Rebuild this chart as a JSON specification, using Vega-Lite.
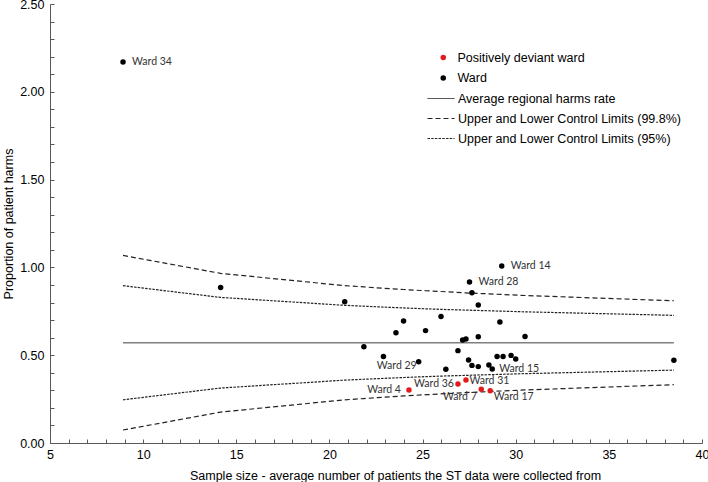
{
  "$schema": "https://vega.github.io/schema/vega-lite/v6.json",
  "width": 652,
  "height": 439,
  "autosize": {"type": "none"},
  "padding": {"left": 50, "top": 4, "right": 6, "bottom": 39},
  "background": "white",
  "config": {"view": {"stroke": null}},
  "datasets": {
    "wards": [
      {"label": "Ward 34", "n": 8.92, "p": 2.17, "type": "Ward"},
      {"label": "", "n": 14.16, "p": 0.885, "type": "Ward"},
      {"label": "", "n": 20.82, "p": 0.805, "type": "Ward"},
      {"label": "", "n": 21.85, "p": 0.548, "type": "Ward"},
      {"label": "", "n": 22.9, "p": 0.492, "type": "Ward"},
      {"label": "Ward 29", "n": 24.79, "p": 0.463, "type": "Ward"},
      {"label": "", "n": 23.57, "p": 0.628, "type": "Ward"},
      {"label": "", "n": 23.98, "p": 0.695, "type": "Ward"},
      {"label": "", "n": 25.16, "p": 0.64, "type": "Ward"},
      {"label": "", "n": 25.99, "p": 0.721, "type": "Ward"},
      {"label": "", "n": 26.25, "p": 0.42, "type": "Ward"},
      {"label": "", "n": 26.9, "p": 0.526, "type": "Ward"},
      {"label": "", "n": 27.15, "p": 0.587, "type": "Ward"},
      {"label": "", "n": 27.33, "p": 0.592, "type": "Ward"},
      {"label": "", "n": 27.47, "p": 0.473, "type": "Ward"},
      {"label": "Ward 28", "n": 27.52, "p": 0.917, "type": "Ward"},
      {"label": "", "n": 27.65, "p": 0.856, "type": "Ward"},
      {"label": "", "n": 27.65, "p": 0.442, "type": "Ward"},
      {"label": "", "n": 27.99, "p": 0.786, "type": "Ward"},
      {"label": "", "n": 27.99, "p": 0.605, "type": "Ward"},
      {"label": "", "n": 27.99, "p": 0.435, "type": "Ward"},
      {"label": "", "n": 28.56, "p": 0.444, "type": "Ward"},
      {"label": "Ward 15", "n": 28.74, "p": 0.421, "type": "Ward"},
      {"label": "", "n": 29.0, "p": 0.492, "type": "Ward"},
      {"label": "", "n": 29.15, "p": 0.689, "type": "Ward"},
      {"label": "Ward 14", "n": 29.25, "p": 1.008, "type": "Ward"},
      {"label": "", "n": 29.32, "p": 0.492, "type": "Ward"},
      {"label": "", "n": 29.75, "p": 0.499, "type": "Ward"},
      {"label": "", "n": 30.0, "p": 0.478, "type": "Ward"},
      {"label": "", "n": 30.5, "p": 0.607, "type": "Ward"},
      {"label": "", "n": 38.49, "p": 0.471, "type": "Ward"},
      {"label": "Ward 4", "n": 24.27, "p": 0.302, "type": "Positively deviant ward"},
      {"label": "Ward 36", "n": 26.9, "p": 0.336, "type": "Positively deviant ward"},
      {"label": "Ward 31", "n": 27.33, "p": 0.359, "type": "Positively deviant ward"},
      {"label": "Ward 7", "n": 28.15, "p": 0.306, "type": "Positively deviant ward"},
      {"label": "Ward 17", "n": 28.63, "p": 0.298, "type": "Positively deviant ward"}
    ],
    "lines": [
      {"n": 8.92, "v": 0.571, "line": "M", "series": "Average regional harms rate"},
      {"n": 38.49, "v": 0.571, "line": "M", "series": "Average regional harms rate"},
      {"n": 8.92, "v": 1.068, "line": "U99", "series": "Upper and Lower Control Limits (99.8%)"},
      {"n": 14.16, "v": 0.966, "line": "U99", "series": "Upper and Lower Control Limits (99.8%)"},
      {"n": 20.82, "v": 0.896, "line": "U99", "series": "Upper and Lower Control Limits (99.8%)"},
      {"n": 21.85, "v": 0.889, "line": "U99", "series": "Upper and Lower Control Limits (99.8%)"},
      {"n": 22.9, "v": 0.881, "line": "U99", "series": "Upper and Lower Control Limits (99.8%)"},
      {"n": 24.0, "v": 0.874, "line": "U99", "series": "Upper and Lower Control Limits (99.8%)"},
      {"n": 25.2, "v": 0.867, "line": "U99", "series": "Upper and Lower Control Limits (99.8%)"},
      {"n": 26.3, "v": 0.861, "line": "U99", "series": "Upper and Lower Control Limits (99.8%)"},
      {"n": 27.3, "v": 0.855, "line": "U99", "series": "Upper and Lower Control Limits (99.8%)"},
      {"n": 28.2, "v": 0.851, "line": "U99", "series": "Upper and Lower Control Limits (99.8%)"},
      {"n": 29.2, "v": 0.846, "line": "U99", "series": "Upper and Lower Control Limits (99.8%)"},
      {"n": 30.5, "v": 0.84, "line": "U99", "series": "Upper and Lower Control Limits (99.8%)"},
      {"n": 38.49, "v": 0.81, "line": "U99", "series": "Upper and Lower Control Limits (99.8%)"},
      {"n": 8.92, "v": 0.074, "line": "L99", "series": "Upper and Lower Control Limits (99.8%)"},
      {"n": 14.16, "v": 0.176, "line": "L99", "series": "Upper and Lower Control Limits (99.8%)"},
      {"n": 20.82, "v": 0.246, "line": "L99", "series": "Upper and Lower Control Limits (99.8%)"},
      {"n": 21.85, "v": 0.253, "line": "L99", "series": "Upper and Lower Control Limits (99.8%)"},
      {"n": 22.9, "v": 0.261, "line": "L99", "series": "Upper and Lower Control Limits (99.8%)"},
      {"n": 24.0, "v": 0.268, "line": "L99", "series": "Upper and Lower Control Limits (99.8%)"},
      {"n": 25.2, "v": 0.275, "line": "L99", "series": "Upper and Lower Control Limits (99.8%)"},
      {"n": 26.3, "v": 0.281, "line": "L99", "series": "Upper and Lower Control Limits (99.8%)"},
      {"n": 27.3, "v": 0.287, "line": "L99", "series": "Upper and Lower Control Limits (99.8%)"},
      {"n": 28.2, "v": 0.291, "line": "L99", "series": "Upper and Lower Control Limits (99.8%)"},
      {"n": 29.2, "v": 0.296, "line": "L99", "series": "Upper and Lower Control Limits (99.8%)"},
      {"n": 30.5, "v": 0.302, "line": "L99", "series": "Upper and Lower Control Limits (99.8%)"},
      {"n": 38.49, "v": 0.332, "line": "L99", "series": "Upper and Lower Control Limits (99.8%)"},
      {"n": 8.92, "v": 0.896, "line": "U95", "series": "Upper and Lower Control Limits (95%)"},
      {"n": 14.16, "v": 0.829, "line": "U95", "series": "Upper and Lower Control Limits (95%)"},
      {"n": 20.82, "v": 0.784, "line": "U95", "series": "Upper and Lower Control Limits (95%)"},
      {"n": 21.85, "v": 0.779, "line": "U95", "series": "Upper and Lower Control Limits (95%)"},
      {"n": 22.9, "v": 0.774, "line": "U95", "series": "Upper and Lower Control Limits (95%)"},
      {"n": 24.0, "v": 0.769, "line": "U95", "series": "Upper and Lower Control Limits (95%)"},
      {"n": 25.2, "v": 0.764, "line": "U95", "series": "Upper and Lower Control Limits (95%)"},
      {"n": 26.3, "v": 0.76, "line": "U95", "series": "Upper and Lower Control Limits (95%)"},
      {"n": 27.3, "v": 0.757, "line": "U95", "series": "Upper and Lower Control Limits (95%)"},
      {"n": 28.2, "v": 0.754, "line": "U95", "series": "Upper and Lower Control Limits (95%)"},
      {"n": 29.2, "v": 0.751, "line": "U95", "series": "Upper and Lower Control Limits (95%)"},
      {"n": 30.5, "v": 0.747, "line": "U95", "series": "Upper and Lower Control Limits (95%)"},
      {"n": 38.49, "v": 0.727, "line": "U95", "series": "Upper and Lower Control Limits (95%)"},
      {"n": 8.92, "v": 0.246, "line": "L95", "series": "Upper and Lower Control Limits (95%)"},
      {"n": 14.16, "v": 0.313, "line": "L95", "series": "Upper and Lower Control Limits (95%)"},
      {"n": 20.82, "v": 0.358, "line": "L95", "series": "Upper and Lower Control Limits (95%)"},
      {"n": 21.85, "v": 0.363, "line": "L95", "series": "Upper and Lower Control Limits (95%)"},
      {"n": 22.9, "v": 0.368, "line": "L95", "series": "Upper and Lower Control Limits (95%)"},
      {"n": 24.0, "v": 0.373, "line": "L95", "series": "Upper and Lower Control Limits (95%)"},
      {"n": 25.2, "v": 0.378, "line": "L95", "series": "Upper and Lower Control Limits (95%)"},
      {"n": 26.3, "v": 0.382, "line": "L95", "series": "Upper and Lower Control Limits (95%)"},
      {"n": 27.3, "v": 0.385, "line": "L95", "series": "Upper and Lower Control Limits (95%)"},
      {"n": 28.2, "v": 0.388, "line": "L95", "series": "Upper and Lower Control Limits (95%)"},
      {"n": 29.2, "v": 0.391, "line": "L95", "series": "Upper and Lower Control Limits (95%)"},
      {"n": 30.5, "v": 0.395, "line": "L95", "series": "Upper and Lower Control Limits (95%)"},
      {"n": 38.49, "v": 0.415, "line": "L95", "series": "Upper and Lower Control Limits (95%)"}
    ]
  },
  "encoding": {
    "x": {
      "field": "n", "type": "quantitative",
      "scale": {"domain": [5, 40], "nice": false, "zero": false},
      "axis": {
        "title": "Sample size - average number of patients the ST data were collected from",
        "values": [5,6,7,8,9,10,11,12,13,14,15,16,17,18,19,20,21,22,23,24,25,26,27,28,29,30,31,32,33,34,35,36,37,38,39,40],
        "labelExpr": "datum.value % 5 === 0 ? datum.label : ''",
        "grid": false, "tickSize": -4, "tickColor": "#595959", "domainColor": "#595959",
        "labelFont": "Liberation Sans", "labelFontSize": 12.5, "labelColor": "#000",
        "labelPadding": 9, "labelOverlap": false, "labelFlush": false,
        "titleFont": "Liberation Sans", "titleFontSize": 12.5, "titleFontWeight": "normal", "titleColor": "#000",
        "titlePadding": 9, "titleX": 345
      }
    },
    "y": {
      "field": "p", "type": "quantitative",
      "scale": {"domain": [0, 2.5], "nice": false},
      "axis": {
        "title": "Proportion of patient harms",
        "values": [0,0.1,0.2,0.3,0.4,0.5,0.6,0.7,0.8,0.9,1,1.1,1.2,1.3,1.4,1.5,1.6,1.7,1.8,1.9,2,2.1,2.2,2.3,2.4,2.5],
        "labelExpr": "round(datum.value*10) % 5 === 0 ? format(datum.value, '.2f') : ''",
        "grid": false, "tickSize": -4, "tickColor": "#595959", "domainColor": "#595959",
        "labelFont": "Liberation Sans", "labelFontSize": 12.5, "labelColor": "#000",
        "labelPadding": 10, "labelOverlap": false, "labelFlush": false,
        "titleFont": "Liberation Sans", "titleFontSize": 12.5, "titleFontWeight": "normal", "titleColor": "#000",
        "titlePadding": 4
      }
    }
  },
  "layer": [
    {
      "data": {"name": "lines"},
      "transform": [{"filter": "datum.line === 'M'"}],
      "mark": {"type": "line", "color": "#808080", "strokeWidth": 1.5},
      "encoding": {
        "x": {"field": "n", "type": "quantitative"},
        "y": {"field": "v", "type": "quantitative"},
        "detail": {"field": "line"},
        "strokeDash": {
          "field": "series", "type": "nominal",
          "scale": {
            "domain": ["Average regional harms rate", "Upper and Lower Control Limits (99.8%)", "Upper and Lower Control Limits (95%)"],
            "range": [[1, 0], [5, 3], [2.5, 1.2]]
          },
          "legend": {
            "title": null, "orient": "none", "legendX": 377, "legendY": 88, "padding": 0,
            "symbolType": "stroke", "symbolSize": 729, "symbolStrokeColor": "#000", "symbolStrokeWidth": 1,
            "labelOffset": 3, "clipHeight": 13, "rowPadding": 7, "labelLimit": 400,
            "labelFont": "Liberation Sans", "labelFontSize": 12.5, "labelColor": "#000"
          }
        }
      }
    },
    {
      "data": {"name": "lines"},
      "transform": [{"filter": "datum.line !== 'M'"}],
      "mark": {"type": "line", "color": "#222222", "strokeWidth": 1.2},
      "encoding": {
        "x": {"field": "n", "type": "quantitative"},
        "y": {"field": "v", "type": "quantitative"},
        "detail": {"field": "line"},
        "strokeDash": {"field": "series", "type": "nominal"}
      }
    },
    {
      "data": {"name": "wards"},
      "mark": {"type": "point", "filled": true, "size": 30, "opacity": 1},
      "encoding": {
        "color": {
          "field": "type", "type": "nominal",
          "scale": {"domain": ["Positively deviant ward", "Ward"], "range": ["#e31a1c", "#000000"]},
          "legend": {
            "title": null, "orient": "none", "legendX": 387, "legendY": 47, "padding": 0,
            "symbolType": "circle", "symbolSize": 30, "symbolStrokeWidth": 0,
            "labelOffset": 8, "clipHeight": 13, "rowPadding": 7.5, "labelLimit": 400,
            "labelFont": "Liberation Sans", "labelFontSize": 12.5, "labelColor": "#000"
          }
        }
      }
    },
    {
      "data": {"name": "wards"},
      "transform": [{"filter": {"field": "label", "oneOf": ["Ward 34", "Ward 14", "Ward 28"]}}],
      "mark": {"type": "text", "font": "Lato", "fontSize": 10.5, "color": "#333", "align": "left", "baseline": "middle", "dx": 9},
      "encoding": {"text": {"field": "label"}}
    },
    {
      "data": {"name": "wards"},
      "transform": [{"filter": {"field": "label", "oneOf": ["Ward 15"]}}],
      "mark": {"type": "text", "font": "Lato", "fontSize": 10.5, "color": "#333", "align": "left", "baseline": "middle", "dx": 7},
      "encoding": {"text": {"field": "label"}}
    },
    {
      "data": {"name": "wards"},
      "transform": [{"filter": {"field": "label", "oneOf": ["Ward 31"]}}],
      "mark": {"type": "text", "font": "Lato", "fontSize": 10.5, "color": "#333", "align": "left", "baseline": "middle", "dx": 3.5, "dy": 1},
      "encoding": {"text": {"field": "label"}}
    },
    {
      "data": {"name": "wards"},
      "transform": [{"filter": {"field": "label", "oneOf": ["Ward 17"]}}],
      "mark": {"type": "text", "font": "Lato", "fontSize": 10.5, "color": "#333", "align": "left", "baseline": "middle", "dx": 3.5, "dy": 6},
      "encoding": {"text": {"field": "label"}}
    },
    {
      "data": {"name": "wards"},
      "transform": [{"filter": {"field": "label", "oneOf": ["Ward 36"]}}],
      "mark": {"type": "text", "font": "Lato", "fontSize": 10.5, "color": "#333", "align": "right", "baseline": "middle", "dx": -4},
      "encoding": {"text": {"field": "label"}}
    },
    {
      "data": {"name": "wards"},
      "transform": [{"filter": {"field": "label", "oneOf": ["Ward 4"]}}],
      "mark": {"type": "text", "font": "Lato", "fontSize": 10.5, "color": "#333", "align": "right", "baseline": "middle", "dx": -8},
      "encoding": {"text": {"field": "label"}}
    },
    {
      "data": {"name": "wards"},
      "transform": [{"filter": {"field": "label", "oneOf": ["Ward 29"]}}],
      "mark": {"type": "text", "font": "Lato", "fontSize": 10.5, "color": "#333", "align": "right", "baseline": "middle", "dx": -2, "dy": 4.5},
      "encoding": {"text": {"field": "label"}}
    },
    {
      "data": {"name": "wards"},
      "transform": [{"filter": {"field": "label", "oneOf": ["Ward 7"]}}],
      "mark": {"type": "text", "font": "Lato", "fontSize": 10.5, "color": "#333", "align": "right", "baseline": "middle", "dx": -4.5, "dy": 7.5},
      "encoding": {"text": {"field": "label"}}
    }
  ]
}
